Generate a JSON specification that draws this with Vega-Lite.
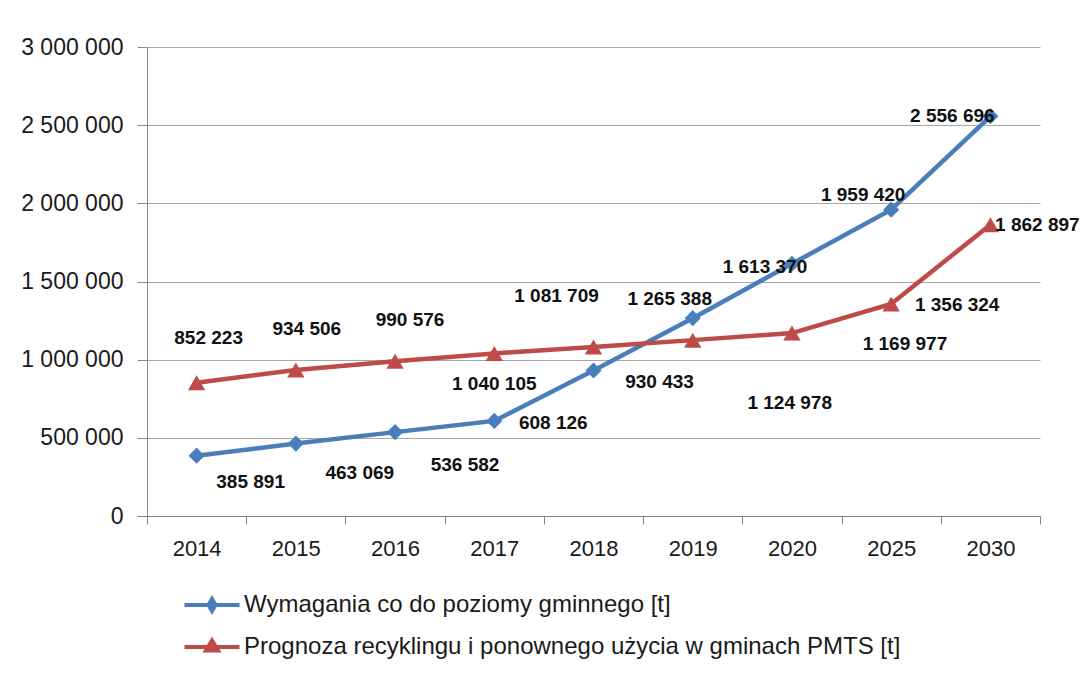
{
  "$schema": "https://vega.github.io/schema/vega-lite/v6.json",
  "width": 893,
  "height": 469,
  "autosize": "none",
  "padding": {"left": 147, "top": 47, "right": 43, "bottom": 162},
  "background": "white",
  "config": {
    "locale": {"number": {"decimal": ",", "thousands": " ", "grouping": [3], "currency": ["", ""]}},
    "view": {"stroke": null},
    "font": "Liberation Sans",
    "text": {"font": "Liberation Sans", "fontSize": 19, "fontWeight": "bold", "fill": "#111111"}
  },
  "data": {
    "values": [
      {"year": "2014", "s": "W", "series": "Wymagania co do poziomy gminnego [t]", "v": 385891},
      {"year": "2015", "s": "W", "series": "Wymagania co do poziomy gminnego [t]", "v": 463069},
      {"year": "2016", "s": "W", "series": "Wymagania co do poziomy gminnego [t]", "v": 536582},
      {"year": "2017", "s": "W", "series": "Wymagania co do poziomy gminnego [t]", "v": 608126},
      {"year": "2018", "s": "W", "series": "Wymagania co do poziomy gminnego [t]", "v": 930433},
      {"year": "2019", "s": "W", "series": "Wymagania co do poziomy gminnego [t]", "v": 1265388},
      {"year": "2020", "s": "W", "series": "Wymagania co do poziomy gminnego [t]", "v": 1613370},
      {"year": "2025", "s": "W", "series": "Wymagania co do poziomy gminnego [t]", "v": 1959420},
      {"year": "2030", "s": "W", "series": "Wymagania co do poziomy gminnego [t]", "v": 2556696},
      {"year": "2014", "s": "P", "series": "Prognoza recyklingu i ponownego użycia w gminach PMTS [t]", "v": 852223},
      {"year": "2015", "s": "P", "series": "Prognoza recyklingu i ponownego użycia w gminach PMTS [t]", "v": 934506},
      {"year": "2016", "s": "P", "series": "Prognoza recyklingu i ponownego użycia w gminach PMTS [t]", "v": 990576},
      {"year": "2017", "s": "P", "series": "Prognoza recyklingu i ponownego użycia w gminach PMTS [t]", "v": 1040105},
      {"year": "2018", "s": "P", "series": "Prognoza recyklingu i ponownego użycia w gminach PMTS [t]", "v": 1081709},
      {"year": "2019", "s": "P", "series": "Prognoza recyklingu i ponownego użycia w gminach PMTS [t]", "v": 1124978},
      {"year": "2020", "s": "P", "series": "Prognoza recyklingu i ponownego użycia w gminach PMTS [t]", "v": 1169977},
      {"year": "2025", "s": "P", "series": "Prognoza recyklingu i ponownego użycia w gminach PMTS [t]", "v": 1356324},
      {"year": "2030", "s": "P", "series": "Prognoza recyklingu i ponownego użycia w gminach PMTS [t]", "v": 1862897}
    ]
  },
  "encoding": {
    "x": {
      "field": "year", "type": "ordinal",
      "scale": {"type": "band", "paddingInner": 0, "paddingOuter": 0},
      "axis": {"title": null, "labelAngle": 0, "tickBand": "extent", "labelFontSize": 22, "labelColor": "#1a1a1a", "tickSize": 8, "tickColor": "#888888", "domainColor": "#888888", "labelPadding": 14, "grid": false}
    },
    "y": {
      "field": "v", "type": "quantitative",
      "scale": {"domain": [0, 3000000]},
      "axis": {"title": null, "values": [0, 500000, 1000000, 1500000, 2000000, 2500000, 3000000], "format": ",d", "labelFontSize": 23, "labelColor": "#1a1a1a", "tickSize": 10, "tickColor": "#888888", "domainColor": "#888888", "gridColor": "#a6a6a6", "labelPadding": 14}
    }
  },
  "layer": [
    {
      "mark": {"type": "line", "strokeWidth": 4.5},
      "encoding": {
        "color": {
          "field": "series", "type": "nominal",
          "scale": {"domain": ["Wymagania co do poziomy gminnego [t]", "Prognoza recyklingu i ponownego użycia w gminach PMTS [t]"], "range": ["#4a7ebb", "#be4b48"]},
          "legend": {
            "orient": "none", "legendX": 38, "legendY": 531, "title": null, "direction": "vertical",
            "symbolSize": 2500, "symbolStrokeWidth": 4, "labelFontSize": 24, "labelOffset": 5, "rowPadding": 1, "padding": 0,
            "labelColor": "#1a1a1a", "symbolOpacity": 1, "labelLimit": 0,
            "symbolType": "M-1.1,0L1.1,0M0,-0.24L0.14,0L0,0.24L-0.14,0Z",
            "encoding": {
              "symbols": {
                "shape": {"value": {"expr": "datum.value === 'Wymagania co do poziomy gminnego [t]' ? 'M-1.1,0L1.1,0M0,-0.24L0.14,0L0,0.24L-0.14,0Z' : 'M-1.1,0L1.1,0M0,-0.26L0.24,0.14L-0.24,0.14Z'"}},
                "fill": {"value": {"expr": "scale('color', datum.value)"}}
              }
            }
          }
        }
      }
    },
    {
      "transform": [{"filter": "datum.s == 'W'"}],
      "mark": {"type": "point", "filled": true, "opacity": 1, "shape": "diamond", "size": 260},
      "encoding": {"color": {"value": "#4a7ebb"}}
    },
    {
      "transform": [{"filter": "datum.s == 'P'"}],
      "mark": {"type": "point", "filled": true, "opacity": 1, "shape": "triangle-up", "size": 300},
      "encoding": {"color": {"value": "#be4b48"}}
    },
    {"transform": [{"filter": "datum.s == 'W' && datum.year == '2014'"}], "mark": {"type": "text", "dx": 54, "dy": 26}, "encoding": {"text": {"field": "v", "format": ",d"}}},
    {"transform": [{"filter": "datum.s == 'W' && datum.year == '2015'"}], "mark": {"type": "text", "dx": 64, "dy": 29}, "encoding": {"text": {"field": "v", "format": ",d"}}},
    {"transform": [{"filter": "datum.s == 'W' && datum.year == '2016'"}], "mark": {"type": "text", "dx": 70, "dy": 33}, "encoding": {"text": {"field": "v", "format": ",d"}}},
    {"transform": [{"filter": "datum.s == 'W' && datum.year == '2017'"}], "mark": {"type": "text", "dx": 59, "dy": 2}, "encoding": {"text": {"field": "v", "format": ",d"}}},
    {"transform": [{"filter": "datum.s == 'W' && datum.year == '2018'"}], "mark": {"type": "text", "dx": 66, "dy": 11}, "encoding": {"text": {"field": "v", "format": ",d"}}},
    {"transform": [{"filter": "datum.s == 'W' && datum.year == '2019'"}], "mark": {"type": "text", "dx": -23, "dy": -19}, "encoding": {"text": {"field": "v", "format": ",d"}}},
    {"transform": [{"filter": "datum.s == 'W' && datum.year == '2020'"}], "mark": {"type": "text", "dx": -27, "dy": 3}, "encoding": {"text": {"field": "v", "format": ",d"}}},
    {"transform": [{"filter": "datum.s == 'W' && datum.year == '2025'"}], "mark": {"type": "text", "dx": -28, "dy": -15}, "encoding": {"text": {"field": "v", "format": ",d"}}},
    {"transform": [{"filter": "datum.s == 'W' && datum.year == '2030'"}], "mark": {"type": "text", "dx": -38, "dy": 0}, "encoding": {"text": {"field": "v", "format": ",d"}}},
    {"transform": [{"filter": "datum.s == 'P' && datum.year == '2014'"}], "mark": {"type": "text", "dx": 12, "dy": -45}, "encoding": {"text": {"field": "v", "format": ",d"}}},
    {"transform": [{"filter": "datum.s == 'P' && datum.year == '2015'"}], "mark": {"type": "text", "dx": 11, "dy": -41}, "encoding": {"text": {"field": "v", "format": ",d"}}},
    {"transform": [{"filter": "datum.s == 'P' && datum.year == '2016'"}], "mark": {"type": "text", "dx": 15, "dy": -41}, "encoding": {"text": {"field": "v", "format": ",d"}}},
    {"transform": [{"filter": "datum.s == 'P' && datum.year == '2017'"}], "mark": {"type": "text", "dx": 0, "dy": 31}, "encoding": {"text": {"field": "v", "format": ",d"}}},
    {"transform": [{"filter": "datum.s == 'P' && datum.year == '2018'"}], "mark": {"type": "text", "dx": -37, "dy": -51}, "encoding": {"text": {"field": "v", "format": ",d"}}},
    {"transform": [{"filter": "datum.s == 'P' && datum.year == '2019'"}], "mark": {"type": "text", "dx": 97, "dy": 63}, "encoding": {"text": {"field": "v", "format": ",d"}}},
    {"transform": [{"filter": "datum.s == 'P' && datum.year == '2020'"}], "mark": {"type": "text", "dx": 113, "dy": 11}, "encoding": {"text": {"field": "v", "format": ",d"}}},
    {"transform": [{"filter": "datum.s == 'P' && datum.year == '2025'"}], "mark": {"type": "text", "dx": 66, "dy": 1}, "encoding": {"text": {"field": "v", "format": ",d"}}},
    {"transform": [{"filter": "datum.s == 'P' && datum.year == '2030'"}], "mark": {"type": "text", "dx": 47, "dy": 0}, "encoding": {"text": {"field": "v", "format": ",d"}}}
  ]
}
